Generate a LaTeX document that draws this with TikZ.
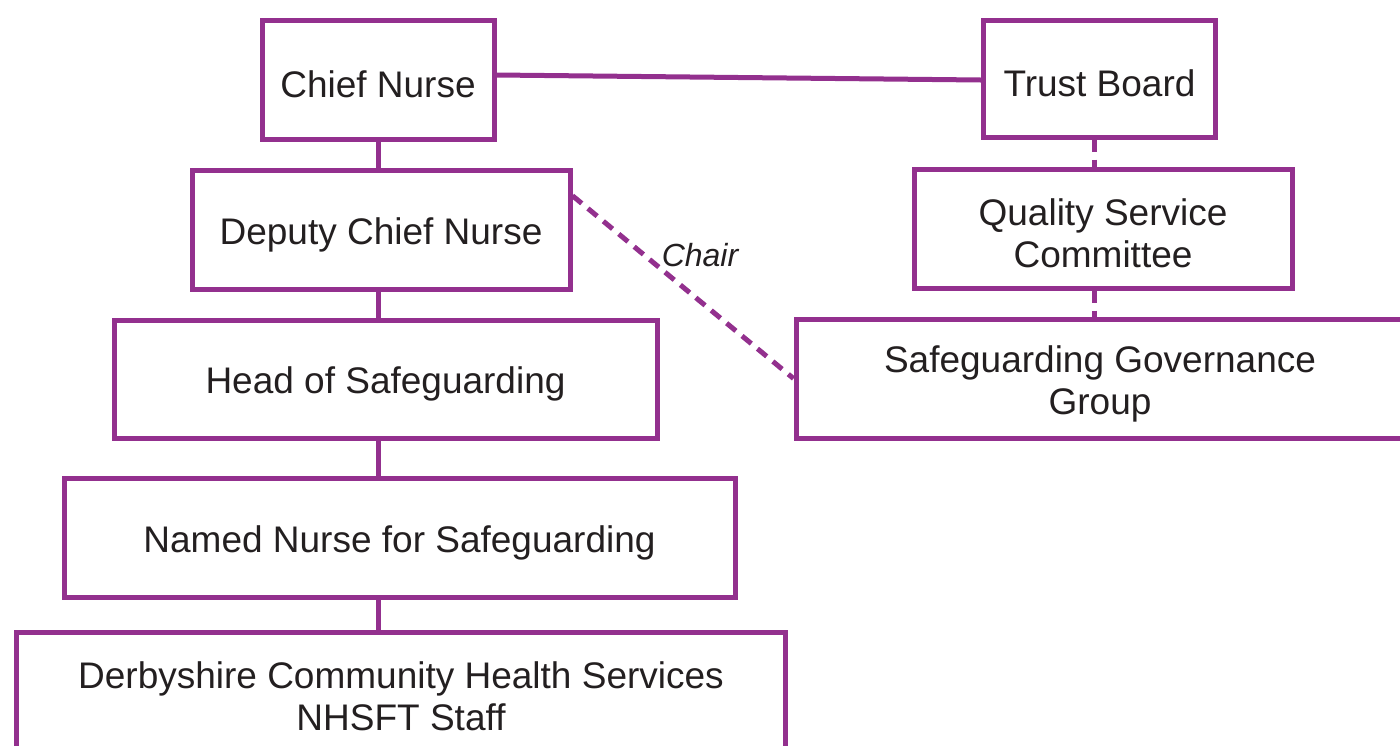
\documentclass[tikz,border=0pt]{standalone}
\usepackage{fontspec}
\setmainfont{Liberation Sans}
\definecolor{trustpurple}{HTML}{93308E}
\definecolor{inkgrey}{HTML}{231F20}
\newcommand{\topstrut}{\rule{0pt}{18.5pt}}

\begin{document}
\begin{tikzpicture}[x=0.5pt, y=-0.5pt,
        box/.style={draw=trustpurple, line width=2.5pt, rectangle, align=center, text=inkgrey,
            inner sep=0pt, font=\fontsize{18.5}{21}\selectfont},
        link/.style={trustpurple, line width=2.5pt},
        dotlink/.style={link, dash pattern=on 6pt off 4pt}]
        \useasboundingbox (0,0) rectangle (1400,745);
        \clip (0,0) rectangle (1400,745);

        \node[box, minimum width=116pt, minimum height=59.5pt] (chief) at (378,79.5) {\topstrut Chief Nurse};
        \node[box, minimum width=116pt, minimum height=58.5pt] (trust) at (1099.5,78.5) {\topstrut Trust Board};
        \node[box, minimum width=189pt, minimum height=59.5pt] (deputy) at (381,229.5) {\topstrut Deputy Chief Nurse};
        \node[box, minimum width=189pt, minimum height=59.5pt] (qsc) at (1103,228.5) {\topstrut Quality Service\\Committee};
        \node[box, minimum width=271.5pt, minimum height=59pt] (head) at (385.5,379) {\topstrut Head of Safeguarding};
        \node[box, minimum width=304pt, minimum height=59.5pt] (sgg) at (1100,378.5) {\topstrut Safeguarding Governance\\Group};
        \node[box, minimum width=335.5pt, minimum height=59.5pt] (named) at (399.5,537.5) {\topstrut Named Nurse for Safeguarding};
        \node[box, minimum width=384.5pt, minimum height=59.5pt] (dchs) at (401,691.5) {\topstrut Derbyshire Community Health Services\\NHSFT Staff};
        \node[text=inkgrey, font=\itshape\fontsize{16}{19}\selectfont] (chair) at (700,255) {Chair};

        \draw[link] ([yshift=2.25pt]chief.east) -- ([yshift=-0.75pt]trust.west);
        \foreach \a/\b in {chief/deputy, deputy/head, head/named, named/dchs} {
                \draw[link] (chief.south |- \a.south) -- (chief.south |- \b.north);
            }
        \draw[dotlink] ([xshift=-2.5pt]trust.south) -- ([xshift=-2.5pt]trust.south |- qsc.north);
        \draw[dotlink] ([xshift=-2.5pt]trust.south |- qsc.south) -- ([xshift=-2.5pt]trust.south |- sgg.north);
        \draw[dotlink] (deputy.10) -- (sgg.west);

    \end{tikzpicture}
\end{document}
